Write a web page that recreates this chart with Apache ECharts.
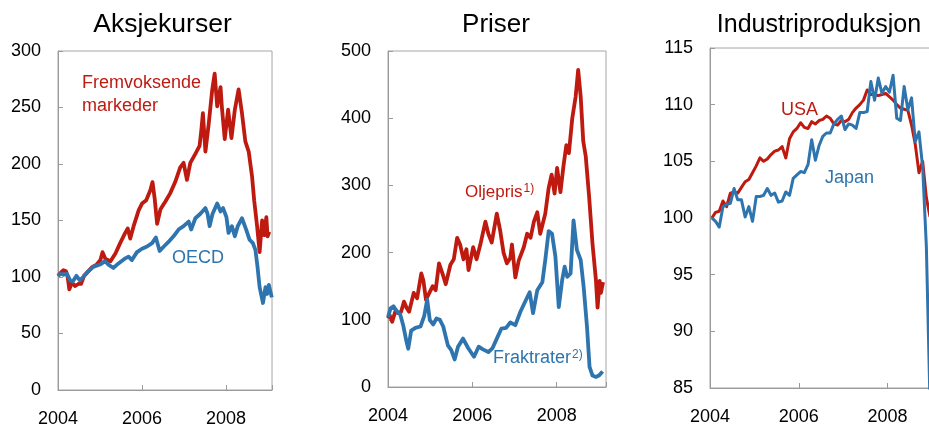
<!DOCTYPE html>
<html><head><meta charset="utf-8">
<script src="https://cdn.jsdelivr.net/npm/echarts@6/dist/echarts.min.js"></script>
<style>html,body{margin:0;padding:0;background:#fff}#c{width:929px;height:426px}</style>
</head><body><div id="c"></div><script>
// Panel 1: Aksjekurser (index)
const emT = [2004.00,2004.07,2004.13,2004.19,2004.23,2004.27,2004.33,2004.41,2004.49,2004.55,2004.62,2004.72,2004.82,2004.92,2005.01,2005.06,2005.13,2005.25,2005.37,2005.48,2005.60,2005.66,2005.72,2005.80,2005.92,2006.00,2006.10,2006.20,2006.25,2006.30,2006.36,2006.44,2006.56,2006.67,2006.79,2006.91,2006.99,2007.07,2007.15,2007.27,2007.37,2007.41,2007.45,2007.51,2007.59,2007.67,2007.73,2007.79,2007.87,2007.90,2007.97,2008.05,2008.13,2008.21,2008.30,2008.38,2008.46,2008.54,2008.62,2008.67,2008.74,2008.80,2008.86,2008.91,2008.96,2008.99,2009.03];
const emV = [101,104,106,105,100,89,95,92,94,94,101,105,109,111,115,122,116,114,121,130,139,143,134,145,159,165,168,177,184,170,147,160,167,174,184,197,201,186,201,209,216,229,245,211,236,265,280,251,268,251,222,248,223,248,266,245,220,211,189,168,145,122,150,137,153,136,140];
const oecdT = [2004.00,2004.07,2004.13,2004.21,2004.29,2004.35,2004.44,2004.52,2004.60,2004.72,2004.84,2005.00,2005.12,2005.20,2005.32,2005.44,2005.58,2005.68,2005.76,2005.88,2006.00,2006.12,2006.24,2006.33,2006.42,2006.52,2006.63,2006.75,2006.87,2006.99,2007.11,2007.17,2007.27,2007.39,2007.51,2007.56,2007.61,2007.68,2007.79,2007.87,2007.93,2008.01,2008.06,2008.14,2008.21,2008.28,2008.38,2008.48,2008.56,2008.64,2008.70,2008.75,2008.80,2008.88,2008.94,2008.98,2009.02,2009.09];
const oecdV = [101,103,102,103,97,96,101,97,100,105,109,111,114,111,108,112,116,118,115,122,125,127,130,135,123,127,131,136,142,145,149,142,152,156,161,156,145,156,165,158,161,153,139,145,136,145,152,142,133,130,124,109,91,77,91,85,93,82];

// Panel 2: Priser
const oilT = [2004.00,2004.04,2004.10,2004.17,2004.24,2004.31,2004.38,2004.44,2004.50,2004.61,2004.69,2004.79,2004.84,2004.90,2004.98,2005.06,2005.13,2005.21,2005.29,2005.37,2005.48,2005.56,2005.64,2005.71,2005.79,2005.86,2005.91,2006.02,2006.10,2006.19,2006.31,2006.38,2006.46,2006.58,2006.66,2006.74,2006.82,2006.90,2006.94,2007.02,2007.10,2007.22,2007.30,2007.38,2007.46,2007.54,2007.61,2007.73,2007.81,2007.88,2007.95,2008.01,2008.09,2008.16,2008.23,2008.29,2008.37,2008.45,2008.51,2008.57,2008.63,2008.69,2008.77,2008.85,2008.93,2008.97,2009.02,2009.05,2009.10];
const oilV = [102,107,97,112,110,112,127,118,112,140,132,169,158,130,140,150,144,184,169,153,182,190,222,212,190,205,174,208,190,212,246,228,215,258,233,200,184,192,212,163,188,208,228,222,246,260,228,258,296,316,288,326,290,328,360,348,400,432,472,432,366,343,283,213,160,118,158,140,156];
const freightT = [2004.00,2004.06,2004.13,2004.22,2004.29,2004.36,2004.43,2004.48,2004.55,2004.65,2004.77,2004.86,2004.93,2004.99,2005.07,2005.15,2005.23,2005.31,2005.42,2005.50,2005.58,2005.66,2005.78,2005.90,2006.04,2006.15,2006.25,2006.38,2006.48,2006.58,2006.69,2006.80,2006.90,2007.02,2007.14,2007.26,2007.36,2007.44,2007.54,2007.66,2007.73,2007.81,2007.89,2007.97,2008.05,2008.13,2008.19,2008.25,2008.33,2008.40,2008.48,2008.57,2008.64,2008.72,2008.78,2008.85,2008.93,2009.00,2009.09];
const freightV = [104,117,120,112,108,92,70,57,84,88,90,106,130,100,93,102,100,90,62,55,41,60,72,58,45,60,56,52,58,72,87,88,96,92,112,128,141,110,144,156,189,232,228,194,119,159,179,164,169,248,204,189,149,89,30,17,15,17,23];

// Panel 3: Industriproduksjon, monthly Jan 2004 - Dec 2008
const monthStart = 2004;
const usaV = [100.0,100.5,100.6,101.5,101.0,102.2,102.3,102.2,102.7,103.2,103.4,104.0,104.6,105.3,105.0,105.2,105.6,105.9,106.0,106.3,105.3,107.0,107.6,107.9,108.4,108.0,107.9,108.5,108.3,108.6,108.7,109.0,108.8,108.3,108.2,108.6,108.5,108.7,109.3,109.7,110.0,110.4,111.3,110.9,110.9,110.8,110.9,111.0,110.7,110.4,110.0,109.7,109.6,109.5,108.2,106.5,104.0,105.0,101.8,100.1];
const japanV = [100.0,99.7,99.2,101.0,101.2,101.3,102.6,101.6,101.6,100.1,101.0,99.7,101.9,101.9,102.0,102.6,102.0,102.2,101.4,101.5,102.3,102.0,103.5,103.8,104.1,104.0,104.7,106.9,105.1,106.4,107.2,107.5,107.5,108.3,108.7,109.0,107.8,108.3,108.2,107.9,109.3,109.3,109.4,112.05,110.4,112.35,111.0,111.6,111.1,112.6,108.8,108.6,111.6,109.55,110.6,106.75,107.6,104.5,97.5,83.5];

const titles = ['Aksjekurser','Priser','Industriproduksjon'];
const xTicks = [2004, 2006, 2008];

function pairs(t, v){ return t.map((x,i)=>[x, v[i]]); }
function monthly(v){ return v.map((y,i)=>[monthStart + (i+0.5)/12, y]); }

const RED = '#be1a10', BLUE = '#2e74ae';
const FONT = '"Liberation Sans", Arial, sans-serif';
const AX = '#9a9a9a';

const grids = [
  {left:58, top:51, width:214, height:339},
  {left:388, top:51, width:218, height:336},
  {left:710, top:48, width:233, height:340}
];
const xMax = [2009.095, 2009.17, 2009.25];
const yR = [[0,300,50],[0,500,100],[85,115,5]];

const chart = echarts.init(document.getElementById('c'), null, {renderer:'canvas'});

const xAxis = grids.map((g,i)=>({
  type:'value', gridIndex:i, min:2004, max:xMax[i], interval:2,
  axisLine:{show:true, lineStyle:{color:AX, width:1}},
  axisTick:{show:true, inside:true, length:5, lineStyle:{color:AX}},
  axisLabel:{color:'#000', fontSize:18, fontFamily:FONT, margin:20,
    formatter:v=> xTicks.indexOf(Math.round(v*1000)/1000)>=0 ? String(v) : ''},
  splitLine:{show:false}
}));
const yAxis = grids.map((g,i)=>({
  type:'value', gridIndex:i, min:yR[i][0], max:yR[i][1], interval:yR[i][2],
  axisLine:{show:true, lineStyle:{color:AX, width:1}},
  axisTick:{show:true, inside:true, length:5, lineStyle:{color:AX}},
  axisLabel:{color:'#000', fontSize:18, fontFamily:FONT, margin:17},
  splitLine:{show:false}
}));

function line(data, xi, color, w){
  return {type:'line', xAxisIndex:xi, yAxisIndex:xi, data:data, showSymbol:false, symbol:'none',
    lineStyle:{color:color, width:w, join:'round'}, itemStyle:{color:color}, animation:false};
}

const series = [
  line(pairs(emT, emV), 0, RED, 3.8),
  line(pairs(oecdT, oecdV), 0, BLUE, 3.8),
  line(pairs(oilT, oilV), 1, RED, 3.8),
  line(pairs(freightT, freightV), 1, BLUE, 3.8),
  line(monthly(usaV), 2, RED, 3),
  line(monthly(japanV), 2, BLUE, 3)
];

const mctx = document.createElement('canvas').getContext('2d');
function tw(text, size){ mctx.font = size + 'px ' + FONT; return mctx.measureText(text).width; }

function txt(text, x, y, size, color, align){
  return {type:'text', x:x, y:y, silent:true, z:100,
    style:{text:text, fontSize:size, fontFamily:FONT, fill:color, align:align||'left', verticalAlign:'middle'}};
}

const graphic = [
  txt(titles[0], 162.5, 25, 26.5, '#000', 'center'),
  txt(titles[1], 496, 25, 26, '#000', 'center'),
  txt(titles[2], 819, 25, 25, '#000', 'center'),
  txt('Fremvoksende', 82, 83, 18, RED),
  txt('markeder', 82, 106, 18, RED),
  txt('OECD', 172, 258, 18, BLUE),
  txt('Oljepris', 465, 192, 17, RED),
  txt('1)', 465 + tw('Oljepris',17) + 1, 189, 12, RED),
  txt('Fraktrater', 493, 358, 18, BLUE),
  txt('2)', 493 + tw('Fraktrater',18) + 1, 355, 12, BLUE),
  txt('USA', 781, 110, 18, RED),
  txt('Japan', 825, 178, 18, BLUE)
];

chart.setOption({
  animation:false,
  backgroundColor:'#fff',
  grid: grids.map(g=>Object.assign({show:true, borderColor:'#a6a6a6', borderWidth:1, containLabel:false, outerBoundsMode:'none'}, g)),
  xAxis: xAxis, yAxis: yAxis, series: series, graphic: graphic
});
</script></body></html>
